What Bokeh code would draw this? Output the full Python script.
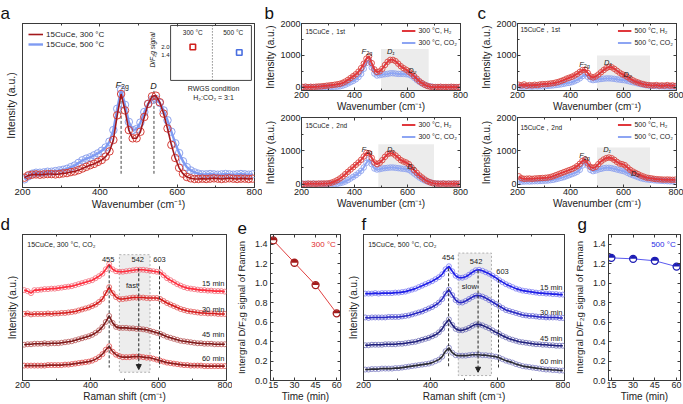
import math
from bokeh.plotting import figure
from bokeh.layouts import row, column
from bokeh.models import (Range1d, FixedTicker, SingleIntervalTicker, Title, Legend, LegendItem,
                          Arrow, NormalHead, NumeralTickFormatter, LinearAxis)
from bokeh.embed import file_html
from bokeh.resources import INLINE
from bokeh.core.properties import value

# ----------------------------------------------------------------- data
WN = list(range(205, 800, 10))  # Raman shift grid (cm-1)

# panel a (normalised intensity)
A_300 = [60, 74, 78, 80, 78, 80, 82, 82, 80, 82, 86, 88, 94, 98, 106, 116, 126, 136, 144, 156,
         168, 188, 220, 290, 440, 570, 470, 350, 300, 300, 340, 430, 510, 556, 560, 520, 450, 360, 260, 180,
         120, 84, 64, 56, 52, 52, 54, 52, 54, 56, 54, 52, 54, 56, 54, 52, 54, 54, 52, 54]
A_500 = [50, 68, 84, 90, 90, 92, 96, 96, 100, 104, 108, 114, 124, 134, 150, 166, 176, 184, 196, 208,
         224, 244, 280, 350, 480, 596, 504, 400, 350, 356, 396, 460, 510, 536, 540, 516, 470, 410, 340, 270,
         210, 160, 124, 104, 92, 84, 80, 80, 82, 80, 78, 80, 82, 80, 78, 80, 82, 80, 78, 80]
A_PEAKS = [455, 540]

# panel b (300 C) and c (500 C)
B1_H2 = [10, 20, 5, 15, 10, 20, 25, 30, 40, 50, 60, 70, 80, 95, 110, 140, 180, 230, 290, 350,
         410, 490, 600, 740, 900, 970, 760, 560, 480, 500, 580, 700, 800, 860, 860, 820, 740, 660, 600, 550,
         490, 430, 350, 270, 190, 130, 80, 40, 20, 10, 5, 10, 15, 5, 10, 5, 15, 10, 5, 10]
B1_CO2 = [0, 5, 0, 10, 5, 0, 5, 10, 5, 10, 10, 15, 15, 20, 30, 50, 80, 120, 160, 200,
          250, 320, 420, 580, 760, 840, 620, 430, 370, 380, 400, 410, 420, 440, 440, 430, 420, 420, 420, 410,
          400, 360, 300, 230, 170, 120, 80, 50, 30, 15, 10, 5, 10, 5, 0, 5, 10, 5, 0, 5]
B2_H2 = [10, 0, 20, 10, 15, 10, 20, 15, 20, 20, 30, 50, 80, 120, 170, 230, 300, 370, 440, 510,
         580, 650, 730, 830, 940, 930, 790, 650, 600, 640, 720, 820, 900, 930, 920, 860, 790, 720, 680, 650,
         600, 510, 420, 340, 260, 200, 140, 90, 55, 30, 20, 15, 10, 20, 10, 15, 10, 20, 10, 15]
B2_CO2 = [10, 15, 5, 10, 20, 10, 5, 15, 10, 10, 15, 10, 10, 10, 30, 50, 80, 120, 170, 220,
          270, 330, 400, 500, 640, 750, 600, 470, 440, 450, 470, 480, 490, 500, 500, 490, 480, 470, 460, 450,
          430, 380, 320, 260, 200, 150, 110, 80, 55, 35, 20, 20, 15, 20, 10, 20, 15, 10, 20, 15]
C1_H2 = [80, 60, 90, 50, 70, 60, 80, 70, 90, 100, 100, 110, 120, 130, 150, 170, 200, 230, 270, 300,
         330, 370, 420, 480, 540, 550, 450, 340, 310, 340, 400, 470, 540, 600, 640, 630, 580, 520, 460, 410,
         370, 320, 270, 220, 180, 150, 120, 100, 80, 70, 60, 60, 70, 50, 60, 50, 70, 50, 60, 40]
C1_CO2 = [20, 25, 20, 30, 25, 20, 30, 25, 30, 30, 40, 45, 50, 60, 70, 80, 95, 110, 130, 140,
          160, 190, 230, 280, 350, 410, 330, 250, 225, 235, 250, 260, 270, 280, 280, 275, 265, 250, 240, 230,
          220, 200, 180, 160, 140, 120, 100, 80, 65, 55, 45, 40, 35, 30, 30, 25, 25, 20, 20, 20]
C2_H2 = [235, 180, 160, 165, 170, 160, 170, 175, 180, 185, 190, 200, 215, 240, 270, 300, 330, 360, 390, 420,
         450, 490, 540, 610, 700, 740, 620, 520, 490, 520, 600, 680, 740, 780, 800, 780, 730, 670, 620, 600,
         570, 500, 430, 380, 340, 300, 260, 230, 200, 185, 175, 160, 150, 145, 140, 135, 140, 135, 130, 135]
C2_CO2 = [80, 75, 80, 85, 80, 85, 90, 90, 95, 100, 105, 110, 120, 130, 150, 170, 190, 210, 240, 270,
          300, 330, 370, 430, 560, 720, 560, 430, 390, 410, 440, 460, 480, 490, 490, 480, 460, 440, 420, 400,
          380, 340, 300, 270, 240, 210, 180, 160, 145, 135, 125, 115, 110, 105, 100, 95, 90, 85, 85, 80]

# shaded D-band windows: [start, end, top]
GRAY_B1 = [500, 680, 1200]
GRAY_B2 = [490, 700, 1200]
GRAY_C1 = [500, 700, 1000]
GRAY_C2 = [500, 700, 1100]

# panel d (300 C, CO2, stacked spectra)
D_15 = [91, 90, 88, 91, 91, 91.5, 92, 92, 92.5, 92.5, 93, 93.5, 94, 94.5, 95, 96, 97, 98, 99, 100,
        101, 103, 105, 107.5, 112, 117, 112, 110, 109.5, 109.5, 110, 110.5, 111, 111.5, 111.5, 111.5, 111, 110.5, 110, 109.5,
        109, 106, 103, 101, 99, 97, 95.5, 94, 93, 92.5, 92, 91.5, 91, 91, 90.5, 90.5, 90, 90, 90, 89.5]
D_30 = [67, 67.5, 66.5, 67, 67, 67, 67, 67.5, 67, 67.5, 67.5, 68, 68, 68.5, 69, 69.5, 70.5, 71.5, 72.5, 73.5,
        75, 76.5, 79, 82, 88, 94, 88, 84, 82, 82, 82.5, 83, 83.5, 83.5, 83.5, 83.5, 83, 83, 83, 83,
        82, 80, 78, 76.5, 75, 73.5, 72, 71, 70, 69.5, 69, 68.5, 68, 68, 67.5, 67.5, 67.5, 67, 67, 67]
D_45 = [36, 36.5, 36.5, 37, 37, 37, 37.5, 37, 37.5, 37.5, 37.5, 38, 38.5, 39, 39.5, 40.5, 41.5, 42.5, 43.5, 44.5,
        46, 48, 50.5, 54, 59, 65, 58, 54, 53, 53, 53, 52.5, 52.5, 52, 52, 51.5, 51, 50, 49, 48,
        47, 45.5, 44, 43, 42, 41, 40, 39.5, 39, 38.5, 38, 37.5, 37.5, 37, 37, 37, 36.5, 36.5, 36.5, 36.5]
D_60 = [15, 15, 15, 15, 15, 15, 15, 15.5, 15.5, 15.5, 15.5, 15.5, 16, 16, 16.5, 17, 17.5, 18, 18.5, 19,
        20, 21.5, 23.5, 26.5, 31, 34.5, 29, 26, 24.5, 23.5, 23.5, 23.5, 24, 24, 24, 23.5, 23, 23, 22, 21,
        20, 19, 18, 17.5, 17, 16.5, 16, 15.5, 15.5, 15, 15, 15, 15, 14.5, 14.5, 14.5, 14.5, 14.5, 14.5, 14.5]

# panel f (500 C, CO2, stacked spectra)
F_15 = [87.5, 87.5, 87.5, 88, 87.5, 88, 88, 88, 88, 88.5, 88.5, 89, 89.5, 90.5, 91.5, 92.5, 94, 95.5, 97, 98.5,
        100, 102, 104, 107, 112, 115, 110, 105.5, 103.5, 103.5, 104.5, 106.5, 109, 111, 111.5, 110.5, 109, 107.5, 105.5, 103.5,
        101, 99, 97, 95.5, 94, 92.5, 91.5, 90.5, 90, 89.5, 89, 88.5, 88, 88, 87.5, 87.5, 87, 87, 86.5, 86.5]
F_30 = [63.5, 63, 63.5, 63.5, 63.5, 63.5, 63.5, 64, 64, 64, 64, 64.5, 65, 65.5, 66.5, 67.5, 68.5, 69.5, 71, 72.5,
        74, 76, 78.5, 82, 87.5, 91.5, 86, 81, 78.5, 78.5, 80, 82, 84, 85.5, 85.5, 84.5, 83, 81, 79, 77,
        75, 73, 71, 70, 69, 68, 67, 66, 65.5, 65, 65, 64.5, 64, 64, 63.5, 63.5, 63.5, 63.5, 63, 63]
F_45 = [35.5, 35.5, 36, 36, 36, 36, 36.5, 36.5, 36.5, 36.5, 37, 37, 37.5, 38, 38.5, 39, 40, 41, 42, 43,
        44.5, 46, 48.5, 52, 57.5, 61.5, 56, 52, 50.5, 50.5, 51.5, 53, 55, 56.5, 56.5, 55.5, 54, 52.5, 50.5, 48.5,
        47, 45, 43.5, 42, 41, 40, 39, 38.5, 38, 37.5, 37, 36.5, 36.5, 36, 36, 35.5, 35.5, 35, 35, 35]
F_60 = [11, 11, 11.5, 11.5, 11.5, 12, 12, 12, 12, 12.5, 12.5, 13, 13.5, 14, 14.5, 15, 15.5, 16, 16.5, 17,
        18, 19.5, 21, 24, 29.5, 33, 28, 25.5, 25, 25, 25, 25.5, 26, 26, 26, 25.5, 25.5, 25, 24.5, 24,
        23, 21.5, 20, 19, 18, 16.5, 15.5, 14.5, 14, 13.5, 13, 12.5, 12, 11.5, 11, 11, 10.5, 10.5, 10, 10]
TIME_LABELS = ["15 min", "30 min", "45 min", "60 min"]
D_PEAKS = [455, 542, 603]
F_PEAKS = [454, 542, 603]

# panels e / g
TIME = [15, 30, 45, 60]
E_300 = [1.44, 1.21, 0.98, 0.69]
G_500 = [1.26, 1.25, 1.23, 1.17]

# inset of panel a
INSET_COND = ["300 °C", "500 °C"]
INSET_VAL = [2.0, 1.58]
INSET_TICKS = [2.0, 1.4]

for s in [A_300, A_500, B1_H2, B1_CO2, B2_H2, B2_CO2, C1_H2, C1_CO2, C2_H2, C2_CO2,
          D_15, D_30, D_45, D_60, F_15, F_30, F_45, F_60]:
    assert len(s) == len(WN), len(s)

# ----------------------------------------------------------------- helpers
FONT = "Liberation Sans"
TXT = "#222222"
EDGE = "#3a3a3a"
SPLIT = 212  # y (px) where the lower row of panels starts


def tick_style(ax):
    ax.axis_line_color = EDGE
    ax.major_tick_line_color = EDGE
    ax.minor_tick_line_color = EDGE
    ax.major_tick_in = 3
    ax.major_tick_out = 0
    ax.minor_tick_in = 2
    ax.minor_tick_out = 0


def make_fig(box, frame, xr, yr, tick_fs="9px", label_fs="10px"):
    x0, y0, x1, y1 = box
    fx0, fy0, fx1, fy1 = frame
    p = figure(width=x1 - x0, height=y1 - y0,
               x_range=Range1d(*xr), y_range=Range1d(*yr),
               min_border_left=fx0 - x0, min_border_right=x1 - fx1,
               min_border_top=fy0 - y0, min_border_bottom=y1 - fy1,
               output_backend="svg", toolbar_location=None, tools="", title=None)
    p.xgrid.visible = False
    p.ygrid.visible = False
    p.outline_line_color = EDGE
    p.outline_line_width = 1
    p.background_fill_color = "white"
    p.border_fill_color = "white"
    for ax in list(p.xaxis) + list(p.yaxis):
        tick_style(ax)
        ax.major_label_text_font = FONT
        ax.major_label_text_font_size = tick_fs
        ax.major_label_text_color = TXT
        ax.axis_label_text_font = FONT
        ax.axis_label_text_font_size = label_fs
        ax.axis_label_text_font_style = "normal"
        ax.axis_label_text_color = TXT
        ax.major_label_standoff = 1
        ax.axis_label_standoff = 0
    return p


def mirror(p, side, ticker):
    # tick marks only on the opposite frame edge (labels are not drawn)
    ax = LinearAxis(ticker=ticker)
    tick_style(ax)
    ax.major_label_text_color = None
    ax.major_label_text_font_size = "1px"
    ax.major_label_standoff = 0
    ax.axis_label_standoff = 0
    p.add_layout(ax, side)


def txt(p, xs, ys, texts, size, color=TXT, align="center", baseline="middle",
        style="normal", angle=0.0, x_off=0, y_off=0):
    return p.text(x=xs, y=ys, text=texts, text_font=value(FONT), text_font_size=value(size),
                  text_color=color, text_align=value(align), text_baseline=value(baseline),
                  text_font_style=value(style), angle=angle, x_offset=x_off, y_offset=y_off)


def f2g(p, xs, ys, size=7.5):
    txt(p, xs, ys, ["F"] * len(xs), f"{size}px", align="right", baseline="alphabetic", style="italic")
    txt(p, xs, ys, ["2g"] * len(xs), f"{size - 2}px", align="left", baseline="alphabetic", y_off=2)


def letter(p, frame, ch, rx):
    p.add_layout(Title(text=ch, align="left", offset=rx - frame[0], text_font=FONT,
                       text_font_size="17px", text_font_style="normal", text_color="#111111",
                       standoff=1), "above")


def legend(p, items, loc, fs="7px", gw=14, h=9, spacing=3, margin=3):
    lg = Legend(items=[LegendItem(label=l, renderers=[r]) for l, r in items], location=loc,
                label_text_font=FONT, label_text_font_size=fs, label_text_color=TXT,
                glyph_width=gw, glyph_height=h, label_height=h, spacing=spacing, padding=0,
                margin=margin, label_standoff=3, background_fill_alpha=0, border_line_alpha=0)
    p.add_layout(lg)


RED_L, RED_C = "#e0383c", "#d9453f"
BLUE_L, BLUE_C = "#8da5f3", "#8ea3ee"
WN_TICKER = SingleIntervalTicker(interval=200, num_minor_ticks=2)

# ----------------------------------------------------------------- panel a
A_BOX, A_FRAME = (0, 0, 262, SPLIT), (22, 23, 254, 190)
pa = make_fig(A_BOX, A_FRAME, (200, 800), (0, 1000), tick_fs="9.5px", label_fs="10.5px")
pa.xaxis.ticker = WN_TICKER
pa.yaxis.ticker = FixedTicker(ticks=[])
pa.xaxis.axis_label = "Wavenumber (cm⁻¹)"
pa.yaxis.axis_label = "Intensity (a.u.)"
pa.yaxis.axis_label_standoff = 6
pa.yaxis.major_label_standoff = 0
mirror(pa, "above", WN_TICKER)
letter(pa, A_FRAME, "a", 0)

pa.segment(x0=A_PEAKS, y0=[589, 589], x1=A_PEAKS, y1=[84, 84], line_color="#444444",
           line_width=1, line_dash="3 2")
pa.scatter(WN, A_500, marker="circle", size=7.5, fill_color=None, line_color=BLUE_C, line_width=1)
ra5 = pa.line(WN, A_500, line_color="#7f9bf2", line_width=2.4)
pa.scatter(WN, A_300, marker="circle", size=7.5, fill_color=None, line_color="#d6403a", line_width=1)
ra3 = pa.line(WN, A_300, line_color="#a3181c", line_width=1.6)
f2g(pa, [455], [626], size=9)
txt(pa, [539], [618], ["D"], "9px", align="center", baseline="alphabetic", style="italic")
legend(pa, [("15CuCe, 300 °C", ra3), ("15CuCe, 500 °C", ra5)], "top_left", fs="8px",
       gw=15, h=10, spacing=0, margin=6)

# inset
ins = pa.subplot(x_source=Range1d(0, 4), y_source=Range1d(-0.55, 3.65),
                 x_target=Range1d(583, 792), y_target=Range1d(653, 988))
ins.quad(left=0, right=4, bottom=-0.55, top=3.65, fill_color="white", line_color="#444444", line_width=1)
ins.segment(x0=[2.07], y0=[-0.55], x1=[2.07], y1=[3.65], line_color="#555555", line_dash="1 2")
txt(ins, [1.1, 3.1], [3.12, 3.12], INSET_COND, "6.5px")
ins.scatter([1.1, 3.4], INSET_VAL, marker="square", size=5.5, fill_color="white",
            line_color=["#d0201c", "#4a6fe0"], line_width=1.6)
txt(ins, [0, 0], INSET_TICKS, ["2.0", "1.4"], "6px", align="right", x_off=-1)
txt(ins, [-0.9], [1.78], ["D/F₂g signal"], "6.5px", style="italic", angle=math.pi / 2)
txt(pa, [694, 694], [605, 551], ["RWGS condition", "H₂:CO₂ = 3:1"], "7px")


# ----------------------------------------------------------------- panels b / c
def build_bc(box, frame, h2, co2, gray, temp, run, lbl, run_pos, ch=None, ch_x=None):
    p = make_fig(box, frame, (200, 800), (-100, 2000))
    yt = SingleIntervalTicker(interval=1000, num_minor_ticks=2)
    p.xaxis.ticker = WN_TICKER
    p.yaxis.ticker = yt
    p.xaxis.axis_label = "Wavenumber (cm⁻¹)"
    p.yaxis.axis_label = "Intensity (a.u.)"
    p.yaxis.axis_label_standoff = 1
    mirror(p, "above", WN_TICKER)
    mirror(p, "right", yt)
    p.quad(left=[gray[0]], right=[gray[1]], bottom=[-100], top=[gray[2]], fill_color="#ececec",
           line_color=None)
    p.scatter(WN, co2, marker="circle", size=5.5, fill_color=None, line_color=BLUE_C, line_width=0.9)
    rc = p.line(WN, co2, line_color=BLUE_L, line_width=2)
    p.scatter(WN, h2, marker="circle", size=5.5, fill_color=None, line_color=RED_C, line_width=0.9)
    rh = p.line(WN, h2, line_color=RED_L, line_width=2)
    f2g(p, [lbl[0][0]], [lbl[0][1]])
    txt(p, [lbl[1][0], lbl[2][0]], [lbl[1][1], lbl[2][1]], ["D₁", "D₂"], "7.5px",
        baseline="alphabetic", style="italic")
    txt(p, [run_pos[0]], [run_pos[1]], [run], "6.5px", align="left")
    legend(p, [(f"{temp}, H₂", rh), (f"{temp}, CO₂", rc)], "top_right")
    if ch:
        letter(p, frame, ch, ch_x)
    return p


B1_FRAME = (300, 23, 460, 90)
B2_FRAME = (300, 117, 460, 187)
C1_FRAME = (517, 23, 676, 90)
C2_FRAME = (517, 117, 676, 187)
pb1 = build_bc((262, 0, 470, 114), B1_FRAME, B1_H2, B1_CO2, GRAY_B1, "300 °C", "15CuCe，1st",
               [(444, 1132), (537, 1132), (618, 527)], (215, 1749), "b", 263)
pb2 = build_bc((262, 114, 470, SPLIT), B2_FRAME, B2_H2, B2_CO2, GRAY_B2, "300 °C", "15CuCe，2nd",
               [(444, 1040), (537, 1040), (615, 539)], (215, 1760))
pc1 = build_bc((470, 0, 683, 114), C1_FRAME, C1_H2, C1_CO2, GRAY_C1, "500 °C", "15CuCe，1st",
               [(450, 715), (541, 768), (616, 400)], (211, 1800), "c", 477)
pc2 = build_bc((470, 114, 683, SPLIT), C2_FRAME, C2_H2, C2_CO2, GRAY_C2, "500 °C", "15CuCe，2nd",
               [(450, 860), (538, 1040), (644, 311)], (211, 1709))


# ----------------------------------------------------------------- panels d / f
def build_df(box, frame, series, lines, circles, title, peaks, peak_lbl, seg, arrow, gbox, word,
             word_pos, tl_y, ch, ch_x):
    p = make_fig(box, frame, (200, 800), (0, 147))
    p.xaxis.ticker = WN_TICKER
    p.yaxis.ticker = FixedTicker(ticks=[])
    p.xaxis.axis_label = "Raman shift (cm⁻¹)"
    p.yaxis.axis_label = "Intensity (a.u.)"
    p.yaxis.axis_label_standoff = 5
    p.yaxis.major_label_standoff = 0
    mirror(p, "above", WN_TICKER)
    letter(p, frame, ch, ch_x)
    p.quad(left=[gbox[0]], right=[gbox[1]], bottom=[gbox[2]], top=[gbox[3]], fill_color="#ededed",
           line_color="#a0a0a0", line_dash="2 2", line_width=0.8)
    for s, lc, cc in zip(series, lines, circles):
        p.scatter(WN, s, marker="circle", size=5, fill_color=None, line_color=cc, line_width=0.8)
        p.line(WN, s, line_color=lc, line_width=1.6)
    p.segment(x0=[peaks[0], peaks[2]], y0=[seg[0][0], seg[1][0]], x1=[peaks[0], peaks[2]],
              y1=[seg[0][1], seg[1][1]], line_color="#333333", line_dash="3 2", line_width=1)
    p.add_layout(Arrow(end=NormalHead(size=5, fill_color="#222222", line_color="#222222"),
                       x_start=peaks[1], y_start=arrow[0], x_end=peaks[1], y_end=arrow[1],
                       line_color="#222222", line_dash="3 2", line_width=1))
    txt(p, [q[0] for q in peak_lbl], [q[1] for q in peak_lbl], [str(v) for v in peaks], "7.5px")
    txt(p, [word_pos[0]], [word_pos[1]], [word], "7.5px")
    txt(p, [214], [137], [title], "7px", align="left")
    txt(p, [794] * 4, tl_y, TIME_LABELS, "7.5px", align="right")
    return p


D_FRAME = (22, 233, 226, 380)
F_FRAME = (362, 233, 564, 380)
pd = build_df((0, SPLIT, 232, 404), D_FRAME, [D_15, D_30, D_45, D_60],
              ["#ff2d3c", "#d41c1c", "#7d1a1a", "#8c1f1f"], ["#f36b78", "#e25656", "#b85858", "#e04848"],
              "15CuCe, 300 °C, CO₂", D_PEAKS, [(452, 121.5), (539, 121.5), (603, 121.5)],
              [(116, 13), (115, 13)], (113, 11), (485, 575, 8.3, 126.7), "fast", (522, 96),
              [97.3, 71.7, 46.7, 21.7], "d", 0)
pf = build_df((344, SPLIT, 570, 404), F_FRAME, [F_15, F_30, F_45, F_60],
              ["#1e1ee6", "#2727c0", "#1f1f7a", "#2b2b33"], ["#7a7af2", "#6f6fd8", "#7070b8", "#7b7bc0"],
              "15CuCe, 500 °C, CO₂", F_PEAKS, [(453, 124), (536, 119.5), (615, 109.5)],
              [(113, 13), (101.7, 13)], (110.7, 8.3), (483, 582, 5, 128.3), "slow", (516, 95),
              [94, 68.3, 42.7, 19.3], "f", 360)


# ----------------------------------------------------------------- panels e / g
def build_eg(box, frame, vals, line_c, mark_c, lbl, lbl_c, ch, ch_x):
    p = make_fig(box, frame, (13, 62.7), (0, 1.5))
    xt = FixedTicker(ticks=TIME)
    yt = SingleIntervalTicker(interval=0.2, num_minor_ticks=2)
    p.xaxis.ticker = xt
    p.yaxis.ticker = yt
    p.yaxis.formatter = NumeralTickFormatter(format="0.0")
    p.xaxis.axis_label = "Time (min)"
    p.yaxis.axis_label = "Intergral D/F₂g signal of Raman"
    p.yaxis.axis_label_text_font_size = "9.5px"
    p.yaxis.axis_label_standoff = 5
    p.yaxis.major_label_standoff = 3
    mirror(p, "above", xt)
    mirror(p, "right", yt)
    letter(p, frame, ch, ch_x)
    p.line(TIME, vals, line_color=line_c, line_width=1)
    p.scatter(TIME, vals, marker="circle", size=7, fill_color="white", line_color=mark_c, line_width=1.3)
    p.wedge(x=TIME, y=vals, radius=3.2, radius_units="screen", start_angle=0, end_angle=math.pi,
            fill_color=mark_c, line_color=None)
    txt(p, [59.4], [1.395], [lbl], "8px", color=lbl_c, align="right")
    return p


pe = build_eg((232, SPLIT, 344, 404), (266, 233, 340, 380), E_300, "#e04040", "#a41c1c", "300 °C",
              "#e02a2a", "e", 233)
pg = build_eg((570, SPLIT, 683, 404), (606, 233, 680, 380), G_500, "#5a5af0", "#1c1cb4", "500 °C",
              "#2a2ae6", "g", 575)

layout = column(
    row(pa, column(pb1, pb2), column(pc1, pc2)),
    row(pd, pe, pf, pg),
)

open("out.html", "w").write(file_html(layout, INLINE))
